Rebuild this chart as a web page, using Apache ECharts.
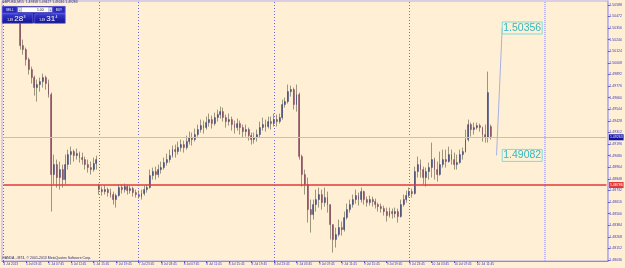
<!DOCTYPE html>
<html><head><meta charset="utf-8">
<script src="https://cdn.jsdelivr.net/npm/echarts@6/dist/echarts.min.js"></script>
<style>html,body{margin:0;padding:0;background:#FFEFD5;}#c{width:625px;height:268px;}</style>
</head><body><div id="c"></div>
<script>
// ---- data (GBPUSD, 30-minute bars) ----
const xLabels = ['4 Jul 2013','5 Jul 03:45','5 Jul 07:45','5 Jul 11:45','5 Jul 15:45','7 Jul 19:45','7 Jul 23:45','8 Jul 03:45','8 Jul 07:45','8 Jul 11:45','8 Jul 15:45','8 Jul 19:45','8 Jul 23:45','9 Jul 03:45','9 Jul 07:45','9 Jul 11:45','9 Jul 15:45','9 Jul 19:45','9 Jul 23:45','10 Jul 03:45','10 Jul 07:45','10 Jul 11:45'];
const yTicks = [1.48036,1.48152,1.48268,1.48384,1.48500,1.48616,1.48732,1.48848,1.48964,1.49080,1.49196,1.49312,1.49428,1.49544,1.49660,1.49776,1.49892,1.50008,1.50124,1.50240,1.50356,1.50472,1.50588];
const separators = [0,34,48,96,144];
const vLineAt = 192;
const redLevel = 1.48786;
const bidLevel = 1.49263;
const trendLow = 1.49082, trendHigh = 1.50356;
const headerText = 'GBPUSD,M15  1.49358 1.49427 1.49246 1.49283';
const copyright = 'OANDA - MT4, \u00A9 2001-2013 MetaQuotes Software Corp.';
// [open, close, low, high]
const ohlc = [
[1.5052,1.5050,1.5046,1.5055],[1.5050,1.5052,1.5047,1.5056],[1.5052,1.5049,1.5045,1.5054],[1.5049,1.5051,1.5046,1.5055],
[1.5051,1.5048,1.5044,1.5053],[1.5048,1.5046,1.5042,1.5052],[1.5046,1.5018,1.5014,1.5049],[1.5018,1.5014,1.5009,1.5024],
[1.5014,1.5004,1.4998,1.5016],[1.5004,1.4994,1.4989,1.5006],[1.4994,1.4986,1.4980,1.4997],[1.4986,1.4976,1.4968,1.4988],
[1.4976,1.4979,1.4962,1.4984],[1.4979,1.4982,1.4972,1.4986],[1.4982,1.4986,1.4976,1.4990],[1.4986,1.4980,1.4974,1.4988],
[1.4980,1.4969,1.4966,1.4984],[1.4969,1.4889,1.4852,1.4971],[1.4889,1.4899,1.4879,1.4909],[1.4899,1.4886,1.4876,1.4904],
[1.4886,1.4894,1.4874,1.4902],[1.4894,1.4884,1.4876,1.4899],[1.4884,1.4899,1.4879,1.4909],[1.4899,1.4909,1.4894,1.4914],
[1.4909,1.4912,1.4899,1.4917],[1.4912,1.4908,1.4902,1.4914],[1.4908,1.4910,1.4904,1.4915],[1.4910,1.4906,1.4901,1.4912],
[1.4906,1.4904,1.4899,1.4911],[1.4904,1.4899,1.4894,1.4907],[1.4899,1.4896,1.4891,1.4904],[1.4896,1.4894,1.4889,1.4902],
[1.4894,1.4900,1.4892,1.4906],[1.4900,1.4904,1.4894,1.4908],[1.4878,1.4874,1.4869,1.4880],[1.4874,1.4872,1.4868,1.4877],
[1.4872,1.4874,1.4869,1.4878],[1.4874,1.4871,1.4867,1.4876],[1.4871,1.4869,1.4866,1.4875],[1.4869,1.4864,1.4859,1.4872],
[1.4864,1.4868,1.4856,1.4870],[1.4868,1.4876,1.4867,1.4879],[1.4876,1.4874,1.4870,1.4879],[1.4874,1.4877,1.4871,1.4880],
[1.4877,1.4873,1.4869,1.4879],[1.4873,1.4875,1.4870,1.4878],[1.4875,1.4871,1.4867,1.4877],[1.4871,1.4869,1.4866,1.4874],
[1.4869,1.4867,1.4865,1.4873],[1.4867,1.4870,1.4864,1.4874],[1.4870,1.4874,1.4868,1.4878],[1.4874,1.4876,1.4871,1.4879],
[1.4876,1.4888,1.4875,1.4894],[1.4888,1.4892,1.4884,1.4896],[1.4892,1.4889,1.4884,1.4897],[1.4889,1.4894,1.4886,1.4899],
[1.4894,1.4896,1.4890,1.4902],[1.4896,1.4901,1.4894,1.4906],[1.4901,1.4904,1.4898,1.4910],[1.4904,1.4908,1.4901,1.4914],
[1.4908,1.4914,1.4906,1.4918],[1.4914,1.4912,1.4906,1.4919],[1.4912,1.4916,1.4909,1.4922],[1.4916,1.4919,1.4912,1.4924],
[1.4919,1.4916,1.4911,1.4923],[1.4916,1.4922,1.4914,1.4928],[1.4922,1.4926,1.4919,1.4932],[1.4926,1.4924,1.4918,1.4931],
[1.4924,1.4929,1.4922,1.4935],[1.4929,1.4934,1.4927,1.4939],[1.4934,1.4938,1.4931,1.4944],[1.4938,1.4936,1.4930,1.4943],
[1.4936,1.4941,1.4934,1.4947],[1.4941,1.4944,1.4937,1.4950],[1.4944,1.4940,1.4935,1.4948],[1.4940,1.4946,1.4938,1.4951],
[1.4946,1.4949,1.4942,1.4954],[1.4949,1.4952,1.4945,1.4957],[1.4952,1.4946,1.4942,1.4956],[1.4946,1.4942,1.4936,1.4949],
[1.4942,1.4944,1.4938,1.4950],[1.4944,1.4939,1.4933,1.4947],[1.4939,1.4936,1.4930,1.4943],[1.4936,1.4940,1.4933,1.4945],
[1.4940,1.4936,1.4929,1.4943],[1.4936,1.4932,1.4926,1.4939],[1.4932,1.4934,1.4927,1.4939],[1.4934,1.4928,1.4923,1.4936],
[1.4928,1.4924,1.4919,1.4931],[1.4924,1.4926,1.4920,1.4931],[1.4926,1.4929,1.4922,1.4934],[1.4929,1.4936,1.4926,1.4942],
[1.4936,1.4939,1.4933,1.4946],[1.4939,1.4937,1.4932,1.4944],[1.4937,1.4942,1.4935,1.4947],[1.4942,1.4940,1.4934,1.4947],
[1.4940,1.4944,1.4937,1.4950],[1.4944,1.4942,1.4937,1.4949],[1.4942,1.4946,1.4940,1.4950],[1.4946,1.4959,1.4944,1.4964],
[1.4959,1.4962,1.4956,1.4966],[1.4962,1.4972,1.4960,1.4979],[1.4972,1.4974,1.4967,1.4978],[1.4974,1.4959,1.4954,1.4976],
[1.4959,1.4969,1.4952,1.4979],[1.4969,1.4907,1.4904,1.4971],[1.4907,1.4889,1.4877,1.4909],[1.4889,1.4879,1.4869,1.4894],
[1.4879,1.4854,1.4841,1.4886],[1.4854,1.4849,1.4831,1.4864],[1.4849,1.4859,1.4844,1.4864],[1.4859,1.4864,1.4852,1.4874],
[1.4864,1.4869,1.4856,1.4876],[1.4869,1.4861,1.4854,1.4874],[1.4861,1.4866,1.4857,1.4876],[1.4866,1.4859,1.4851,1.4872],
[1.4859,1.4839,1.4824,1.4859],[1.4839,1.4824,1.4811,1.4839],[1.4824,1.4829,1.4816,1.4836],[1.4829,1.4836,1.4827,1.4844],
[1.4836,1.4834,1.4828,1.4842],[1.4834,1.4846,1.4832,1.4852],[1.4846,1.4854,1.4844,1.4860],[1.4854,1.4859,1.4851,1.4864],
[1.4859,1.4864,1.4856,1.4869],[1.4864,1.4868,1.4860,1.4874],[1.4868,1.4864,1.4858,1.4871],[1.4864,1.4872,1.4861,1.4876],
[1.4872,1.4864,1.4859,1.4873],[1.4864,1.4861,1.4857,1.4867],[1.4861,1.4864,1.4858,1.4868],[1.4864,1.4862,1.4857,1.4867],
[1.4862,1.4859,1.4855,1.4865],[1.4859,1.4857,1.4852,1.4861],[1.4857,1.4855,1.4851,1.4860],[1.4855,1.4852,1.4848,1.4858],
[1.4852,1.4848,1.4842,1.4856],[1.4848,1.4852,1.4846,1.4856],[1.4852,1.4850,1.4845,1.4855],[1.4850,1.4852,1.4846,1.4856],
[1.4852,1.4847,1.4841,1.4855],[1.4847,1.4859,1.4846,1.4864],[1.4859,1.4864,1.4857,1.4869],[1.4864,1.4868,1.4861,1.4873],
[1.4868,1.4872,1.4866,1.4876],[1.4872,1.4870,1.4866,1.4875],[1.4870,1.4892,1.4869,1.4897],[1.4892,1.4899,1.4886,1.4907],
[1.4899,1.4894,1.4886,1.4904],[1.4894,1.4886,1.4879,1.4897],[1.4886,1.4892,1.4877,1.4896],[1.4892,1.4896,1.4884,1.4901],
[1.4896,1.4904,1.4886,1.4921],[1.4904,1.4894,1.4884,1.4906],[1.4894,1.4889,1.4882,1.4902],[1.4889,1.4899,1.4888,1.4912],
[1.4899,1.4904,1.4896,1.4914],[1.4904,1.4902,1.4896,1.4914],[1.4902,1.4909,1.4901,1.4917],[1.4909,1.4904,1.4899,1.4914],
[1.4904,1.4899,1.4894,1.4911],[1.4899,1.4901,1.4894,1.4909],[1.4901,1.4909,1.4900,1.4914],[1.4909,1.4912,1.4904,1.4916],
[1.4912,1.4924,1.4911,1.4934],[1.4924,1.4939,1.4922,1.4944],[1.4939,1.4934,1.4927,1.4941],[1.4934,1.4936,1.4929,1.4941],
[1.4936,1.4938,1.4934,1.4941],[1.4938,1.4936,1.4932,1.4940],[1.4936,1.4929,1.4922,1.4937],[1.4929,1.4926,1.4921,1.4939],
[1.4926,1.4971,1.4921,1.4992],[1.4937,1.4927,1.4924,1.4939]
];
const slotCount = 215;
const categories = Array.from({length: slotCount}, (_, i) => String(i));

// ---- chart ----
const bodies = ohlc.map(d => [d[0], d[1], Math.min(d[0], d[1]), Math.max(d[0], d[1])]);
const FONT = 'Liberation Sans';
const chart = echarts.init(document.getElementById('c'), null, {renderer: 'canvas'});
const lbl = (i) => i % 8 === 0 && i / 8 < xLabels.length;
const hLine = (level, color, width, boxColor) => [
  {coord: [0, level], lineStyle: {color: color, width: width, type: 'solid'},
    label: {show: true, position: 'end', distance: 2.5, formatter: level.toFixed(5), fontSize: 3.5,
      color: '#ffffff', backgroundColor: boxColor, padding: [1, 1], fontFamily: FONT}},
  {coord: [slotCount - 1, level]}
];
chart.setOption({
  animation: false,
  backgroundColor: '#FFEFD5',
  grid: {left: 2, right: 16, top: 1, bottom: 7, show: true, borderColor: '#b3adf0', borderWidth: 1},
  xAxis: {
    type: 'category', data: categories, boundaryGap: true,
    axisLine: {lineStyle: {color: '#8d88e6', width: 1}},
    axisTick: {show: true, alignWithLabel: true, interval: lbl, length: 2, lineStyle: {color: '#5a5ad0'}},
    axisLabel: {interval: lbl, formatter: (v, i) => xLabels[i / 8], align: 'left', fontSize: 3.2,
      color: '#3a3ac4', margin: 1.5, fontFamily: FONT, hideOverlap: false},
    splitLine: {show: false}
  },
  yAxis: {
    type: 'value', position: 'right', min: 1.48026, max: 1.50626, scale: true,
    axisLine: {show: true, lineStyle: {color: '#b3adf0', width: 1.5}},
    axisTick: {show: true, customValues: yTicks, length: 2, lineStyle: {color: '#5a5ad0'}},
    axisLabel: {customValues: yTicks, formatter: v => v.toFixed(5), fontSize: 3.5, color: '#3a3ac4',
      margin: 1.5, fontFamily: FONT},
    splitLine: {show: false}
  },
  series: [
    {type: 'candlestick', data: ohlc, barWidth: 1, silent: true, z: 2,
      itemStyle: {color: '#9b977f', color0: '#9b977f', borderColor: '#9b977f', borderColor0: '#9b977f', borderWidth: 1}},
    {type: 'candlestick', data: bodies, barWidth: 1.4, silent: true, z: 3,
      itemStyle: {color: '#34407c', color0: '#84405c', borderColor: '#34407c', borderColor0: '#84405c', borderWidth: 0.4},
      markLine: {
        silent: true, symbol: ['none', 'none'], animation: false, label: {show: false},
        data: [
          ...separators.map(i => ({xAxis: i, lineStyle: {color: '#6b6bea', type: [1, 2], width: 1}})),
          {xAxis: vLineAt, lineStyle: {color: '#bcb5f2', type: [1, 1], width: 2}},
          hLine(bidLevel, '#c9c0ae', 1, '#1212a6'),
          hLine(redLevel, '#e23a3a', 1.5, '#e23a3a'),
          [{coord: [175, trendLow], lineStyle: {color: '#a6b2e2', width: 1, type: 'solid'}, label: {show: false}}, {coord: [177, trendHigh]}]
        ]
      },
      markPoint: {
        silent: true, symbol: 'rect', symbolSize: 0.1, animation: false,
        label: {show: true, position: 'right', distance: 0, formatter: p => p.data.txt,
          color: '#33b8c0', fontFamily: FONT, fontSize: 10.5, borderColor: '#7fdcdc', borderWidth: 1,
          padding: [1, 1, 0, 1]},
        data: [
          {coord: [177, trendHigh], txt: trendHigh.toFixed(5)},
          {coord: [176.5, trendLow], txt: trendLow.toFixed(5)}
        ]
      }
    }
  ],
  graphic: [
    {type: 'text', left: 2, top: 1, z: 100, style: {text: headerText, fontSize: 3.4, fill: '#2a2a6a', fontFamily: FONT}},
    {type: 'text', left: 2, top: 256, z: 100, style: {text: copyright, fontSize: 3.5, fill: '#2a2a6a', fontFamily: FONT}},
    {type: 'group', left: 2, top: 6, z: 100, children: [
      {type: 'rect', z: 100, shape: {x: 0, y: 0, width: 63, height: 17}, style: {fill: '#1d1da6'}},
      {type: 'rect', z: 101, shape: {x: 0, y: 0, width: 15, height: 7}, style: {fill: '#2a2ac0', stroke: '#8c8ce4', lineWidth: 0.5}},
      {type: 'text', z: 102, x: 7.5, y: 3.5, style: {text: 'SELL', fontSize: 3, fill: '#ffffff', align: 'center', verticalAlign: 'middle', fontFamily: FONT}},
      {type: 'rect', z: 101, shape: {x: 15.5, y: 1, width: 4, height: 5}, style: {fill: '#d9d9ea'}},
      {type: 'text', z: 102, x: 17.5, y: 3.5, style: {text: '-', fontSize: 4, fill: '#222', align: 'center', verticalAlign: 'middle', fontFamily: FONT}},
      {type: 'rect', z: 101, shape: {x: 19.5, y: 1, width: 27, height: 5}, style: {fill: '#ffffff'}},
      {type: 'text', z: 102, x: 38, y: 3.6, style: {text: '1.00', fontSize: 3.4, fill: '#111', align: 'center', verticalAlign: 'middle', fontFamily: FONT}},
      {type: 'rect', z: 101, shape: {x: 46.5, y: 1, width: 3.5, height: 5}, style: {fill: '#d9d9ea'}},
      {type: 'text', z: 102, x: 48.2, y: 3.5, style: {text: '+', fontSize: 3.5, fill: '#222', align: 'center', verticalAlign: 'middle', fontFamily: FONT}},
      {type: 'rect', z: 101, shape: {x: 50.5, y: 0, width: 12.5, height: 7}, style: {fill: '#2a2ac0', stroke: '#8c8ce4', lineWidth: 0.5}},
      {type: 'text', z: 102, x: 56.7, y: 3.5, style: {text: 'BUY', fontSize: 3, fill: '#ffffff', align: 'center', verticalAlign: 'middle', fontFamily: FONT}},
      {type: 'rect', z: 101, shape: {x: 0, y: 7.5, width: 30.5, height: 9.5},
        style: {fill: new echarts.graphic.LinearGradient(0, 0, 0, 1, [{offset: 0, color: '#3c3cd6'}, {offset: 1, color: '#10108c'}]), stroke: '#7a7ae0', lineWidth: 0.5}},
      {type: 'rect', z: 101, shape: {x: 32.5, y: 7.5, width: 30.5, height: 9.5},
        style: {fill: new echarts.graphic.LinearGradient(0, 0, 0, 1, [{offset: 0, color: '#3c3cd6'}, {offset: 1, color: '#10108c'}]), stroke: '#7a7ae0', lineWidth: 0.5}},
      {type: 'text', z: 102, x: 5, y: 13.5, style: {text: '1.49', fontSize: 3, fill: '#ffffff', verticalAlign: 'middle', fontFamily: FONT}},
      {type: 'text', z: 102, x: 12, y: 12.6, style: {text: '28', fontSize: 8, fill: '#ffffff', verticalAlign: 'middle', fontFamily: FONT}},
      {type: 'text', z: 102, x: 21.2, y: 10.3, style: {text: '3', fontSize: 3.5, fill: '#ffffff', verticalAlign: 'middle', fontFamily: FONT}},
      {type: 'text', z: 102, x: 37, y: 13.5, style: {text: '1.49', fontSize: 3, fill: '#ffffff', verticalAlign: 'middle', fontFamily: FONT}},
      {type: 'text', z: 102, x: 44, y: 12.6, style: {text: '31', fontSize: 8, fill: '#ffffff', verticalAlign: 'middle', fontFamily: FONT}},
      {type: 'text', z: 102, x: 53.2, y: 10.3, style: {text: '4', fontSize: 3.5, fill: '#ffffff', verticalAlign: 'middle', fontFamily: FONT}}
    ]}
  ]
});
</script>
</body></html>
